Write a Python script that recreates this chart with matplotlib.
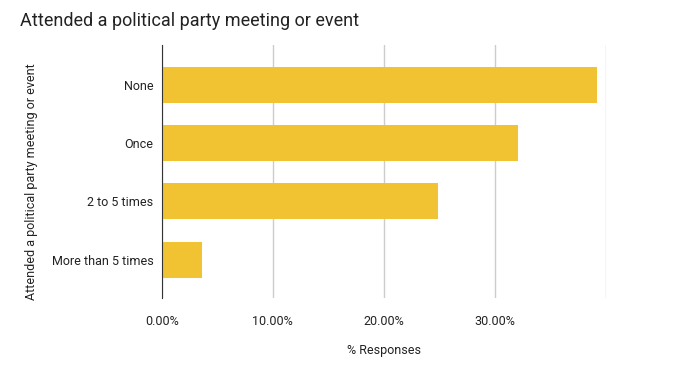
import matplotlib.pyplot as plt

plt.rcParams['font.family'] = ['Roboto', 'DejaVu Sans']

categories = ['None', 'Once', '2 to 5 times', 'More than 5 times']
responses = [39.2, 32.1, 24.9, 3.6]
xticks = [0, 10, 20, 30, 40]
xtick_labels = ['0.00%', '10.00%', '20.00%', '30.00%', '']

fig = plt.figure(figsize=(6.95, 3.85), dpi=100)
ax = fig.add_axes([0.2327, 0.226, 0.8715 - 0.2327, 0.883 - 0.226])

ax.barh(range(len(categories)), responses, height=0.62, color='#f1c232', zorder=3)
ax.set_yticks(range(len(categories)))
ax.set_yticklabels(categories, fontsize=9, color='#222222')
ax.set_ylim(len(categories) - 1 + 0.66, -0.69)

ax.set_xlim(0, 40)
ax.set_xticks(xticks)
ax.set_xticklabels(xtick_labels, fontsize=9, color='#222222')
ax.grid(axis='x', color='#cccccc', linewidth=1, zorder=0)
ax.tick_params(axis='y', length=0, pad=6)
ax.tick_params(axis='x', length=0, pad=12)

for s in ['top', 'right', 'bottom']:
    ax.spines[s].set_visible(False)
ax.spines['left'].set_color('#333333')
ax.spines['left'].set_zorder(4)

ax.set_xlabel('% Responses', fontsize=9, color='#222222', labelpad=12)
fig.text(0.045, 0.527, 'Attended a political party meeting or event', rotation=90,
         ha='center', va='center', fontsize=9, color='#222222')
fig.text(0.029, 0.945, 'Attended a political party meeting or event', fontsize=13,
         color='#222222', va='center')

fig.savefig('out.png', dpi=100)
